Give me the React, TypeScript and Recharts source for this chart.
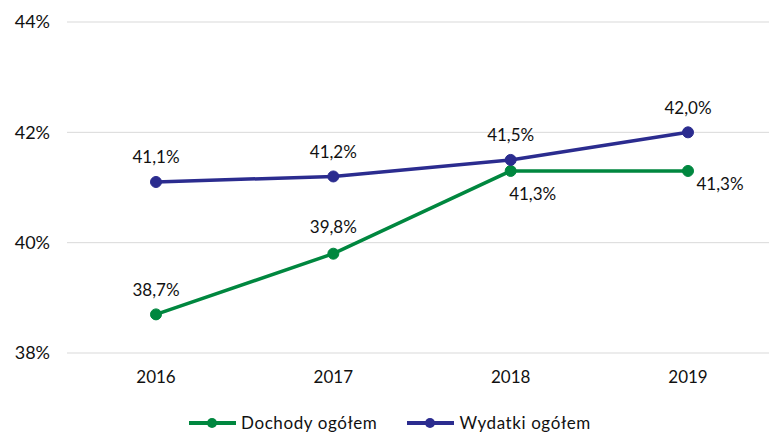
import React from 'react';
import { LineChart, Line, XAxis, YAxis, CartesianGrid, Legend } from 'recharts';

const years = ['2016', '2017', '2018', '2019'];
const dochody = [38.7, 39.8, 41.3, 41.3];
const wydatki = [41.1, 41.2, 41.5, 42.0];
const yTicks = [38, 40, 42, 44];

const GREEN = '#00873F';
const BLUE = '#2B2C8F';
const FONT = 'Lato, "Open Sans", sans-serif';

const data = years.map((y, i) => ({ year: y, dochody: dochody[i], wydatki: wydatki[i] }));

const fmt = (v: number) => v.toFixed(1).replace('.', ',') + '%';

const greenOffsets = [
  { dx: 0, dy: -25 },
  { dx: 0, dy: -27 },
  { dx: 22, dy: 23 },
  { dx: 32, dy: 13 },
];

const GreenLabel = (props: any) => {
  const { x, y, value, index } = props;
  const o = greenOffsets[index] || { dx: 0, dy: -25 };
  return (
    <text x={x + o.dx} y={y + o.dy} textAnchor="middle" dominantBaseline="central" fontSize={17} fill="#111" fontFamily={FONT}>
      {fmt(value)}
    </text>
  );
};

const BlueLabel = (props: any) => {
  const { x, y, value } = props;
  return (
    <text x={x} y={y - 25} textAnchor="middle" dominantBaseline="central" fontSize={17} fill="#111" fontFamily={FONT}>
      {fmt(value)}
    </text>
  );
};

const LegendContent = () => {
  const item = (color: string, label: string, ml: number) => (
    <div style={{ display: 'flex', alignItems: 'center', marginLeft: ml }}>
      <svg width={47} height={14}>
        <line x1={0} y1={7} x2={47} y2={7} stroke={color} strokeWidth={4} />
        <circle cx={23} cy={7} r={5} fill={color} />
      </svg>
      <span style={{ marginLeft: 5, fontSize: 17, color: '#111', fontFamily: FONT, letterSpacing: 0.6 }}>{label}</span>
    </div>
  );
  return (
    <div style={{ display: 'flex', justifyContent: 'flex-start', width: 769, height: 35, alignItems: 'center' }}>
      {item(GREEN, 'Dochody ogółem', 189)}
      {item(BLUE, 'Wydatki ogółem', 30)}
    </div>
  );
};

export default function App() {
  return (
    <div style={{ position: 'absolute', left: 0, top: 0, width: 769, height: 432, overflow: 'hidden', background: '#fff' }}>
      <LineChart width={777} height={432} data={data} margin={{ top: 22, right: 0, left: 0, bottom: 0 }}>
        <CartesianGrid vertical={false} stroke="#d9d9d9" strokeWidth={1} />
        <XAxis
          dataKey="year"
          axisLine={false}
          tickLine={false}
          tickSize={0}
          tickMargin={18}
          height={44}
          padding={{ left: 89, right: 89 }}
          tick={{ fontSize: 17, fill: '#111', fontFamily: FONT }}
        />
        <YAxis
          domain={[38, 44]}
          ticks={yTicks}
          axisLine={false}
          tickLine={false}
          tickSize={0}
          tickMargin={17}
          width={67}
          tickFormatter={(v: number) => v + '%'}
          tick={{ fontSize: 18, fill: '#111', fontFamily: FONT }}
        />
        <Legend verticalAlign="bottom" height={35} content={<LegendContent />} wrapperStyle={{ left: 0, bottom: -8 }} />
        <Line
          dataKey="dochody"
          stroke={GREEN}
          strokeWidth={3.5}
          dot={{ r: 5.5, fill: GREEN, stroke: GREEN, strokeWidth: 1 }}
          activeDot={false}
          label={<GreenLabel />}
          isAnimationActive={false}
        />
        <Line
          dataKey="wydatki"
          stroke={BLUE}
          strokeWidth={3.5}
          dot={{ r: 5.5, fill: BLUE, stroke: BLUE, strokeWidth: 1 }}
          activeDot={false}
          label={<BlueLabel />}
          isAnimationActive={false}
        />
      </LineChart>
    </div>
  );
}
